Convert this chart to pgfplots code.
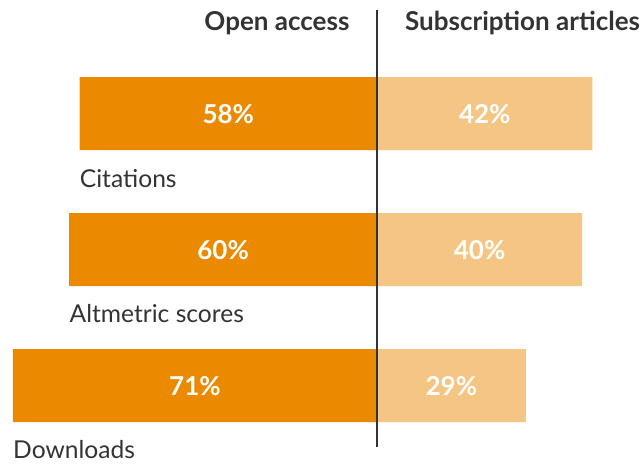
\documentclass[border=0pt]{standalone}
\usepackage{pgfplots}
\pgfplotsset{compat=1.18}
\usepackage{fontspec}
\setmainfont{Lato}
\definecolor{oa}{RGB}{235,138,0}
\definecolor{sub}{RGB}{245,198,131}
\definecolor{txt}{RGB}{51,51,51}
\begin{document}
\begin{tikzpicture}
\begin{axis}[
  width=322pt, height=231.5pt, scale only axis,
  xmin=-73.5, xmax=52.05, ymin=0, ymax=463, y dir=reverse,
  hide axis, clip=false,
]
\addplot[xbar, bar width=73, bar shift=0pt, fill=oa, draw=none]
  coordinates {(-58,113.5) (-60,249.5) (-71,385.5)};
\addplot[xbar, bar width=73, bar shift=0pt, fill=sub, draw=none]
  coordinates {(42,113.5) (40,249.5) (29,385.5)};
% percentage labels centred in bars
\addplot[only marks, mark=none, nodes near coords, point meta=explicit symbolic,
  every node near coord/.style={anchor=center, text=white, font=\fontsize{13}{15}\selectfont\bfseries}]
  coordinates {(-29,114.5) [58\%] (-30,250.5) [60\%] (-35.5,386.5) [71\%]
               (21,114.5) [42\%] (20,250.5) [40\%] (14.5,386.5) [29\%]};
% category labels
\addplot[only marks, mark=none, nodes near coords, point meta=explicit symbolic,
  every node near coord/.style={anchor=base west, inner sep=0pt, text=txt, font=\fontsize{12.3}{14}\selectfont}]
  coordinates {(-58,187) [Citations] (-60,322) [Altmetric scores] (-71,458) [Downloads]};
\draw[txt, line width=0.7pt] (axis cs:0,10) -- (axis cs:0,447);
\node[anchor=base east, inner sep=0pt, text=txt, font=\fontsize{13}{15}\selectfont\bfseries] at (axis cs:-5.3,30) {Open access};
\node[anchor=base west, inner sep=0pt, text=txt, font=\fontsize{13}{15}\selectfont\bfseries] at (axis cs:5.4,30) {Subscription articles};
\end{axis}
\pgfresetboundingbox
\useasboundingbox (current axis.south west) rectangle (current axis.north east);
\end{tikzpicture}
\end{document}
